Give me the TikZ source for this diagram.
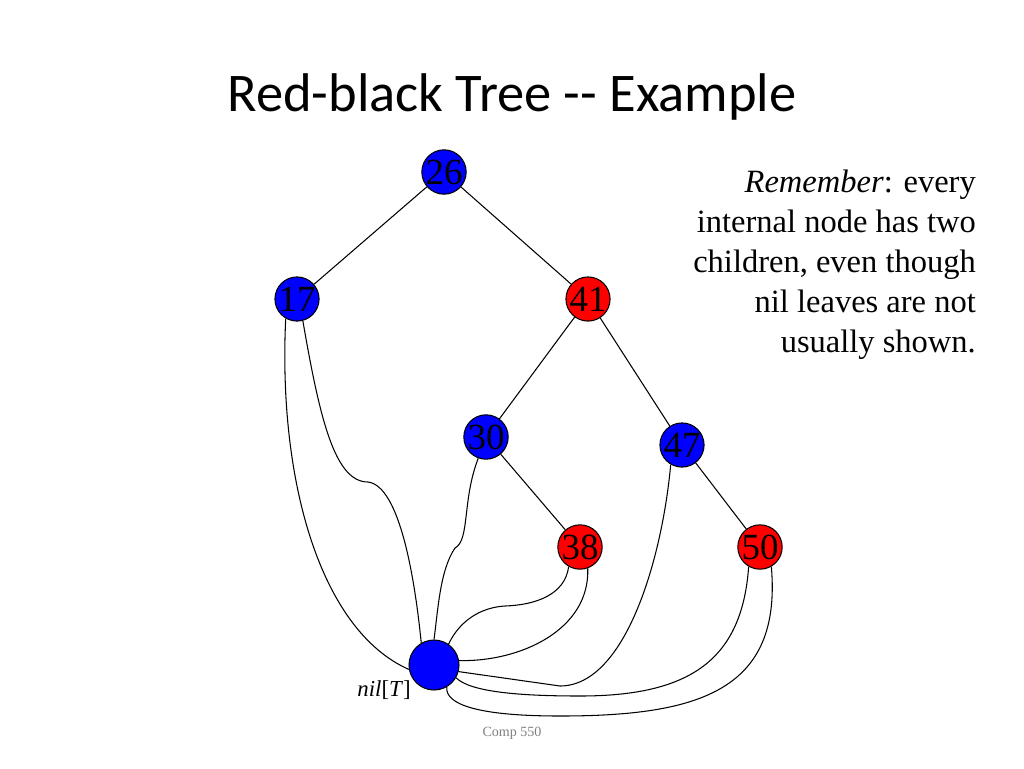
\documentclass[tikz,border=0pt]{standalone}
\usepackage{fontspec}
\setmainfont{Liberation Serif}
\newfontfamily\titlefont{Carlito}
\begin{document}
\begin{tikzpicture}[x=0.02cm,y=-0.02cm,
  tn/.style={circle,draw=black,line width=0.6pt,minimum size=0.88cm,inner sep=0pt,font=\fontsize{21}{21}\selectfont},
  bk/.style={tn,fill=blue,text=black},
  rd/.style={tn,fill=red,text=black},
  ed/.style={line width=0.6pt}]
\useasboundingbox (0,0) rectangle (1024,768);
\node (title) at (512,97) {\titlefont\fontsize{31}{31}\selectfont Red-black Tree -- Example};
\node[bk] (n26) at (444,172) {26};
\node[bk] (n17) at (297,299) {17};
\node[rd] (n41) at (588,299) {41};
\node[bk] (n30) at (486,437) {30};
\node[bk] (n47) at (682,445) {47};
\node[rd] (n38) at (580,547) {38};
\node[rd] (n50) at (760,547) {50};
\node[circle,draw=black,line width=0.6pt,fill=blue,minimum size=1cm,inner sep=0pt] (nil) at (434,665) {};
\node[anchor=east,font=\fontsize{13}{13}\selectfont] (nill) at (417,690) {\textit{nil}[\textit{T}]};
\node[anchor=north east,align=right,font=\fontsize{18.5}{22.7}\selectfont] (rem) at (982,164)
 {\textit{Remember}: every\\internal node has two\\children, even though\\nil leaves are not\\usually shown.};
\node[text=gray,font=\fontsize{8}{8}\selectfont] (comp) at (512,733) {Comp 550};
\draw[ed] (n26) -- (n17);
\draw[ed] (n26) -- (n41);
\draw[ed] (n41) -- (n30);
\draw[ed] (n41) -- (n47);
\draw[ed] (n30) -- (n38);
\draw[ed] (n47) -- (n50);
\draw[ed] (n17.240) .. controls (278,480) and (320,630) .. (nil.190);
\draw[ed] (n17.285) .. controls (320,420) and (335,482) .. (368,482) .. controls (400,486) and (415,580) .. (nil.120);
\draw[ed] (n30.250) .. controls (462,500) and (470,540) .. (455,548) .. controls (440,570) and (438,610) .. (nil.90);
\draw[ed] (n38.240) .. controls (565,595) and (535,605) .. (505,606) .. controls (472,608) and (455,630) .. (nil.55);
\draw[ed] (n38.290) .. controls (590,630) and (520,662) .. (nil.10);
\draw[ed] (n47.240) .. controls (662,560) and (625,686) .. (560,686) -- (nil.345);
\draw[ed] (n50.240) .. controls (742,660) and (690,696) .. (580,696) .. controls (520,696) and (470,692) .. (nil.330);
\draw[ed] (n50.300) .. controls (782,690) and (700,716) .. (560,716) .. controls (480,716) and (445,705) .. (nil.300);
\end{tikzpicture}
\end{document}
